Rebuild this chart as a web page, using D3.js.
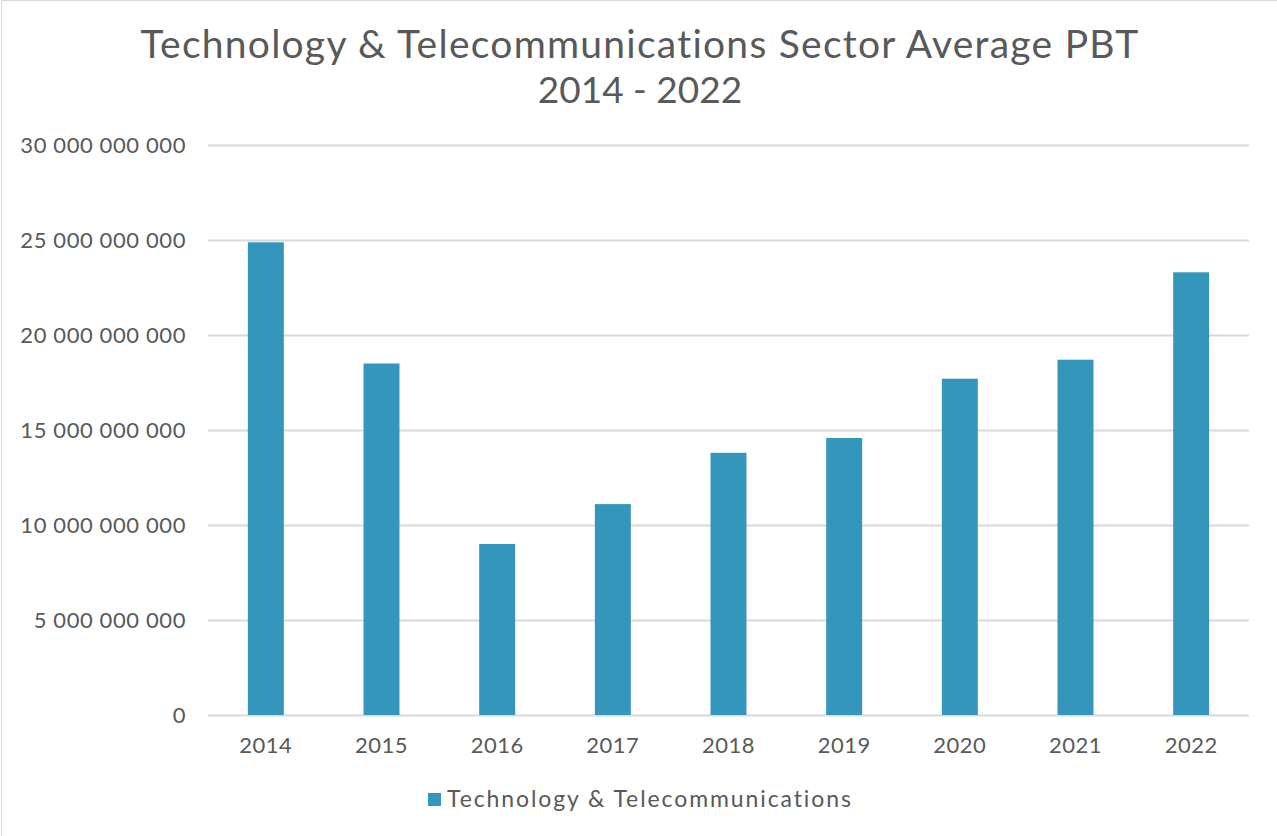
<!DOCTYPE html>
<html>
<head>
<meta charset="utf-8">
<script src="https://cdn.jsdelivr.net/npm/d3@7"></script>
<style>
  body { margin: 0; background: #fff; }
  svg text { font-family: Lato, "Open Sans", sans-serif; fill: #595959; }
</style>
</head>
<body>
<div id="chart"></div>
<script>
var years = ['2014', '2015', '2016', '2017', '2018', '2019', '2020', '2021', '2022']
var pbt = [24.88e9, 18.5e9, 9.0e9, 11.1e9, 13.8e9, 14.58e9, 17.7e9, 18.7e9, 23.3e9]
var yTicks = [0, 5e9, 10e9, 15e9, 20e9, 25e9, 30e9]
var seriesName = 'Technology & Telecommunications'
var titleLines = ['Technology & Telecommunications Sector Average PBT', '2014 - 2022']

var width = 1277
var height = 836
var margin = {top: 145, right: 28, bottom: 121, left: 208}
var barColor = '#3596bc'

var svg = d3.select('#chart')
  .append('svg')
  .attr('width', width)
  .attr('height', height)

// chart area border
svg.append('rect')
  .attr('x', 1.5)
  .attr('y', 0.5)
  .attr('width', width)
  .attr('height', height)
  .attr('fill', 'none')
  .attr('stroke', '#d9d9d9')

var x = d3.scaleBand()
  .domain(years)
  .range([margin.left, width - margin.right])
  .padding(0)

var y = d3.scaleLinear()
  .domain([0, 30e9])
  .range([height - margin.bottom, margin.top])

var barW = x.bandwidth() * 0.311

// gridlines
svg.append('g')
  .selectAll('line')
  .data(yTicks)
  .enter()
  .append('line')
  .attr('x1', margin.left)
  .attr('x2', width - margin.right)
  .attr('y1', function(d) { return Math.round(y(d)) + 0.5 })
  .attr('y2', function(d) { return Math.round(y(d)) + 0.5 })
  .attr('stroke', '#d9d9d9')
  .attr('stroke-width', 2)

// y axis labels
var fmt = function(d) { return d3.format(',')(d).replace(/,/g, ' ') }
var yAxis = d3.axisLeft(y).tickValues(yTicks).tickFormat(fmt).tickSize(0).tickPadding(22)
var yg = svg.append('g')
  .attr('transform', 'translate(' + margin.left + ',0)')
  .call(yAxis)
yg.select('.domain').remove()
yg.selectAll('text')
  .style('font-size', '22px')
  .style('letter-spacing', '0.6px')
  .attr('dy', '0.35em')

// bars
svg.append('g')
  .selectAll('rect')
  .data(pbt)
  .enter()
  .append('rect')
  .attr('x', function(d, i) { return x(years[i]) + (x.bandwidth() - barW) / 2 })
  .attr('width', barW)
  .attr('y', function(d) { return y(d) })
  .attr('height', function(d) { return y(0) - y(d) })
  .attr('fill', barColor)

// x axis labels
var xAxis = d3.axisBottom(x).tickSize(0).tickPadding(22)
var xg = svg.append('g')
  .attr('transform', 'translate(0,' + y(0) + ')')
  .call(xAxis)
xg.select('.domain').remove()
xg.selectAll('text')
  .style('font-size', '22px')
  .style('letter-spacing', '0.5px')

// title
svg.append('g')
  .selectAll('text')
  .data(titleLines)
  .enter()
  .append('text')
  .attr('x', 640)
  .attr('y', function(d, i) { return 58 + i * 45 })
  .attr('text-anchor', 'middle')
  .style('font-size', function(d, i) { return i ? '37px' : '39px' })
  .style('letter-spacing', function(d, i) { return i ? '0px' : '1.25px' })
  .text(function(d) { return d })

// legend
var lg = svg.append('g').attr('transform', 'translate(428,793)')
lg.append('rect')
  .attr('width', 13)
  .attr('height', 13)
  .attr('fill', barColor)
lg.append('text')
  .attr('x', 19)
  .attr('y', 14)
  .style('font-size', '23px')
  .style('letter-spacing', '1.9px')
  .text(seriesName)
</script>
</body>
</html>
